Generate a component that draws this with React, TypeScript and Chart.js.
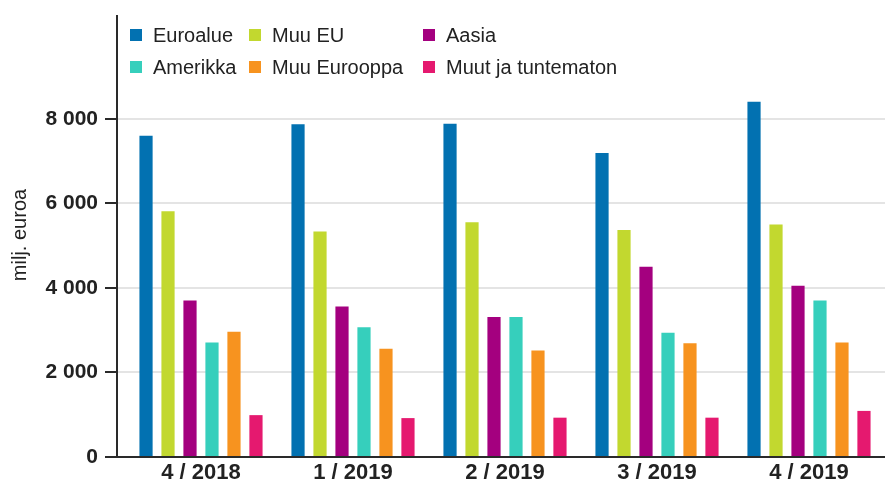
import React, { useEffect, useRef } from 'react';
import { Chart, registerables } from 'chart.js';

Chart.register(...registerables);

const categories = ['4 / 2018', '1 / 2019', '2 / 2019', '3 / 2019', '4 / 2019'];
const seriesNames = ['Euroalue', 'Muu EU', 'Aasia', 'Amerikka', 'Muu Eurooppa', 'Muut ja tuntematon'];
const seriesColors = ['#0271b1', '#c2d82f', '#a4007f', '#36cfbc', '#f7931f', '#e5196f'];
const euroalue = [7600, 7870, 7880, 7190, 8400];
const muuEU = [5810, 5330, 5550, 5370, 5500];
const aasia = [3700, 3560, 3310, 4500, 4050];
const amerikka = [2710, 3070, 3310, 2940, 3700];
const muuEurooppa = [2960, 2560, 2520, 2690, 2710];
const muut = [990, 920, 930, 930, 1090];
const yTicks = [0, 2000, 4000, 6000, 8000];
const yTitle = 'milj. euroa';

const FONT = '"Liberation Sans", Arial, sans-serif';
const TEXT = '#222222';

const fmt = (v: number) => String(v).replace(/\B(?=(\d{3})+(?!\d))/g, ' ');

const zeroPad = (s: any) => {
  s.paddingTop = 0;
  s.paddingBottom = 0;
  s.paddingLeft = 0;
  s.paddingRight = 0;
};

const customPlugin = {
  id: 'customAxes',
  beforeDatasetsDraw(chart: any) {
    const { ctx, chartArea, scales } = chart;
    const y = scales.y;
    ctx.save();
    ctx.strokeStyle = '#e4e4e4';
    ctx.lineWidth = 2;
    yTicks.forEach((t) => {
      if (t === 0) return;
      const py = Math.round(y.getPixelForValue(t));
      ctx.beginPath();
      ctx.moveTo(chartArea.left - 8, py);
      ctx.lineTo(chartArea.right, py);
      ctx.stroke();
    });
    ctx.restore();
  },
  afterDatasetsDraw(chart: any) {
    const { ctx, chartArea, scales } = chart;
    const y = scales.y;
    const ax = chartArea.left - 8;
    const base = Math.round(y.getPixelForValue(0));
    ctx.save();
    ctx.strokeStyle = '#2a2a2a';
    ctx.lineWidth = 2;
    ctx.beginPath();
    ctx.moveTo(ax, chartArea.top + 2);
    ctx.lineTo(ax, base);
    ctx.stroke();
    ctx.beginPath();
    ctx.moveTo(ax - 12, base);
    ctx.lineTo(chartArea.right, base);
    ctx.stroke();
    yTicks.forEach((t) => {
      const py = Math.round(y.getPixelForValue(t));
      ctx.beginPath();
      ctx.moveTo(ax - 12, py);
      ctx.lineTo(ax, py);
      ctx.stroke();
    });
    // legend
    const colX = [130, 249, 423];
    const rowY = [35, 67];
    ctx.font = `20px ${FONT}`;
    ctx.textBaseline = 'middle';
    ctx.textAlign = 'left';
    chart.data.datasets.forEach((ds: any, i: number) => {
      const cx = colX[i % 3];
      const cy = rowY[Math.floor(i / 3)];
      ctx.fillStyle = ds.backgroundColor;
      ctx.fillRect(cx, cy - 6, 12, 12);
      ctx.fillStyle = TEXT;
      ctx.fillText(ds.label, cx + 23, cy + 1);
    });
    ctx.restore();
  },
};

export default function App() {
  const ref = useRef<HTMLCanvasElement | null>(null);
  useEffect(() => {
    document.body.style.margin = '0';
    if (!ref.current) return;
    const data = [euroalue, muuEU, aasia, amerikka, muuEurooppa, muut];
    const chart = new Chart(ref.current, {
      type: 'bar',
      data: {
        labels: categories,
        datasets: data.map((d, i) => ({
          label: seriesNames[i],
          data: d,
          backgroundColor: seriesColors[i],
          borderWidth: 0,
          categoryPercentage: 0.868,
          barPercentage: 0.6,
        })),
      },
      options: {
        responsive: false,
        animation: false,
        devicePixelRatio: 1,
        layout: { autoPadding: false, padding: { top: 13, right: 0, left: 0, bottom: 0 } },
        plugins: { legend: { display: false }, tooltip: { enabled: false } },
        scales: {
          x: {
            grid: { display: false, drawTicks: false },
            border: { display: false },
            ticks: { font: { family: FONT, size: 22, weight: 'bold' }, color: TEXT, padding: 3 },
            afterFit: (s: any) => { s.height = 32; zeroPad(s); },
          },
          y: {
            min: 0,
            max: 10500,
            grid: { display: false, drawTicks: false },
            border: { display: false },
            afterBuildTicks: (s: any) => { s.ticks = yTicks.map((v) => ({ value: v })); },
            ticks: {
              font: { family: FONT, size: 21, weight: 'bold' },
              color: TEXT,
              padding: 27,
              callback: (v: any) => fmt(Number(v)),
            },
            title: {
              display: true,
              text: yTitle,
              font: { family: FONT, size: 20 },
              color: TEXT,
              padding: { top: 8, bottom: 0 },
            },
            afterFit: (s: any) => { s.width = 125; zeroPad(s); },
          },
        },
      },
      plugins: [customPlugin],
    });
    return () => chart.destroy();
  }, []);
  return (
    <div style={{ width: 885, height: 489 }}>
      <canvas ref={ref} width={885} height={489} />
    </div>
  );
}
